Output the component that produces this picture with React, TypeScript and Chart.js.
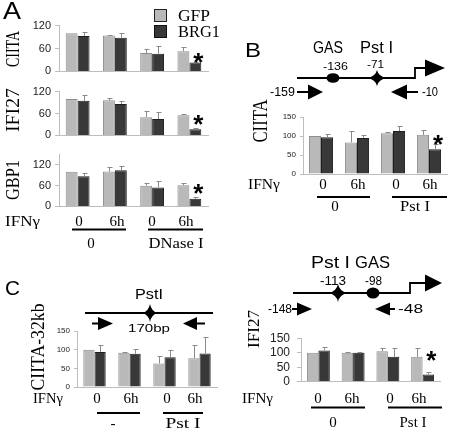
import React, { useEffect, useRef } from 'react';
import { Chart, registerables } from 'chart.js';
Chart.register(...registerables);

// ---------- DATA ----------
const categories = ['0', '6h', '0', '6h'];

// Panel A – CIITA
const aCiitaGfp = [100, 94, 48, 53];
const aCiitaGfpErr = [0, 1, 12, 12];
const aCiitaBrg1 = [93, 88, 46, 23];
const aCiitaBrg1Err = [10, 13, 21, 2];
// Panel A – IFI27
const aIfiGfp = [100, 96, 50, 55];
const aIfiGfpErr = [0, 7, 16, 5];
const aIfiBrg1 = [95, 86, 45, 17];
const aIfiBrg1Err = [15, 7, 19, 3];
// Panel A – GBP1
const aGbpGfp = [100, 101, 60, 61];
const aGbpGfpErr = [0, 12, 7, 6];
const aGbpBrg1 = [87, 105, 55, 22];
const aGbpBrg1Err = [10, 11, 20, 6];
// Panel B – CIITA
const bCiitaGfp = [100, 83, 107, 103];
const bCiitaGfpErr = [0, 30, 3, 13];
const bCiitaBrg1 = [97, 95, 113, 65];
const bCiitaBrg1Err = [8, 8, 14, 15];
// Panel C – CIITA-32kb
const cCiitaGfp = [100, 92, 63, 77];
const cCiitaGfpErr = [0, 2, 19, 35];
const cCiitaBrg1 = [94, 89, 80, 90];
const cCiitaBrg1Err = [19, 14, 20, 45];
// Panel C – IFI27
const cIfiGfp = [100, 100, 105, 86];
const cIfiGfpErr = [0, 2, 12, 31];
const cIfiBrg1 = [108, 100, 86, 25];
const cIfiBrg1Err = [12, 2, 31, 7];

const seriesNames = ['GFP', 'BRG1'];

// ---------- STYLE ----------
const GFP_COLOR = '#b9b9b9';
const BRG_COLOR = '#383838';
const AXIS_COLOR = '#bdbdbd';
const SANS = "'Liberation Sans', Arial, sans-serif";
const SERIF = "'Liberation Serif', 'Times New Roman', serif";

const errPlugin = {
  id: 'errbars',
  afterDatasetsDraw(chart: any, _args: any, opts: any) {
    const ctx = chart.ctx;
    const ys = chart.scales.y;
    chart.data.datasets.forEach((ds: any, i: number) => {
      const meta = chart.getDatasetMeta(i);
      meta.data.forEach((el: any, j: number) => {
        const e = ds.errors[j];
        if (!e) return;
        const yTop = Math.round(ys.getPixelForValue(ds.data[j] + e)) + 0.5;
        const x = Math.round(el.x) + 0.5;
        ctx.save();
        ctx.strokeStyle = '#8a8a8a';
        ctx.lineWidth = 1;
        ctx.beginPath();
        ctx.moveTo(x, el.y);
        ctx.lineTo(x, yTop);
        ctx.moveTo(x - 2, yTop);
        ctx.lineTo(x + 3, yTop);
        ctx.stroke();
        ctx.restore();
      });
    });
    if (opts && opts.star != null) {
      const meta = chart.getDatasetMeta(1);
      const el = meta.data[meta.data.length - 1];
      const size = 26;
      const y = ys.getPixelForValue(opts.star);
      ctx.save();
      ctx.fillStyle = '#000';
      ctx.font = `bold ${size}px ${SANS}`;
      ctx.textAlign = 'center';
      ctx.textBaseline = 'alphabetic';
      ctx.fillText('*', el.x + 3, y + size * 0.57);
      ctx.restore();
    }
  },
};

type Spec = {
  gfp: number[]; gfpErr: number[]; brg: number[]; brgErr: number[];
  max: number; step: number; star: number | null;
  left: number; right: number; top: number; bottom: number;
  font: number; tickLen: number; pad: number; cat: number;
};

const YW = 44, PT = 9, PB = 9, PR = 10;

function BarPanel({ s }: { s: Spec }) {
  const ref = useRef<HTMLCanvasElement>(null);
  useEffect(() => {
    const chart = new Chart(ref.current as HTMLCanvasElement, {
      type: 'bar',
      data: {
        labels: categories,
        datasets: [
          { label: seriesNames[0], data: s.gfp, errors: s.gfpErr, backgroundColor: GFP_COLOR, borderColor: '#8e8e8e', borderWidth: 1 } as any,
          { label: seriesNames[1], data: s.brg, errors: s.brgErr, backgroundColor: BRG_COLOR, borderColor: '#1e1e1e', borderWidth: 1 } as any,
        ],
      },
      options: {
        animation: false,
        responsive: false,
        maintainAspectRatio: false,
        layout: { padding: { left: 0, top: PT, right: PR, bottom: PB } },
        datasets: { bar: { categoryPercentage: s.cat, barPercentage: 1 } },
        plugins: { legend: { display: false }, tooltip: { enabled: false }, errbars: { star: s.star } } as any,
        scales: {
          x: {
            grid: { display: false },
            ticks: { display: false },
            border: { display: true, color: AXIS_COLOR, width: 1 },
            afterFit: (sc: any) => { sc.height = 0; },
          },
          y: {
            min: 0, max: s.max,
            ticks: { stepSize: s.step, color: '#222', font: { family: SANS, size: s.font }, padding: s.pad },
            grid: { drawOnChartArea: false, drawTicks: true, tickLength: s.tickLen, color: AXIS_COLOR },
            border: { display: true, color: AXIS_COLOR, width: 1 },
            afterFit: (sc: any) => { sc.width = YW; },
          },
        },
      },
      plugins: [errPlugin],
    } as any);
    return () => chart.destroy();
  }, []);
  const w = YW + (s.right - s.left) + PR;
  const h = PT + (s.bottom - s.top) + PB;
  return (
    <canvas ref={ref} width={w} height={h}
      style={{ position: 'absolute', left: s.left - YW, top: s.top - PT, width: w, height: h }} />
  );
}

const specs: Spec[] = [
  { gfp: aCiitaGfp, gfpErr: aCiitaGfpErr, brg: aCiitaBrg1, brgErr: aCiitaBrg1Err, max: 120, step: 30, star: 39,
    left: 59, right: 208, top: 24, bottom: 73, font: 11, tickLen: 4, pad: 4, cat: 0.64 },
  { gfp: aIfiGfp, gfpErr: aIfiGfpErr, brg: aIfiBrg1, brgErr: aIfiBrg1Err, max: 120, step: 30, star: 48,
    left: 59, right: 208, top: 90, bottom: 137, font: 11, tickLen: 4, pad: 4, cat: 0.64 },
  { gfp: aGbpGfp, gfpErr: aGbpGfpErr, brg: aGbpBrg1, brgErr: aGbpBrg1Err, max: 150, step: 30, star: 55,
    left: 59, right: 208, top: 153, bottom: 208, font: 11, tickLen: 4, pad: 4, cat: 0.64 },
  { gfp: bCiitaGfp, gfpErr: bCiitaGfpErr, brg: bCiitaBrg1, brgErr: bCiitaBrg1Err, max: 150, step: 50, star: 95,
    left: 303, right: 447, top: 117, bottom: 174, font: 8, tickLen: 3, pad: 4, cat: 0.67 },
  { gfp: cCiitaGfp, gfpErr: cCiitaGfpErr, brg: cCiitaBrg1, brgErr: cCiitaBrg1Err, max: 150, step: 50, star: null,
    left: 77, right: 217, top: 331, bottom: 387, font: 8, tickLen: 3, pad: 4, cat: 0.64 },
  { gfp: cIfiGfp, gfpErr: cIfiGfpErr, brg: cIfiBrg1, brgErr: cIfiBrg1Err, max: 150, step: 50, star: 94,
    left: 301, right: 440, top: 333, bottom: 387, font: 12, tickLen: 4, pad: 7, cat: 0.66 },
];

// ---------- SVG helpers ----------
function T({ x, y, t, size = 15, font = SERIF, anchor = 'start', len }: any) {
  return (
    <text x={x} y={y} fontSize={size} fontFamily={font} textAnchor={anchor} fill="#000"
      {...(len ? { textLength: len, lengthAdjust: 'spacingAndGlyphs' } : {})}>{t}</text>
  );
}
function R({ x, y, t, size = 17, len }: any) {
  return (
    <text transform={`translate(${x},${y}) rotate(-90)`} fontSize={size} fontFamily={SERIF}
      textAnchor="middle" dominantBaseline="central" fill="#000"
      {...(len ? { textLength: len, lengthAdjust: 'spacingAndGlyphs' } : {})}>{t}</text>
  );
}
function Star({ cx, cy, hw, hh }: any) {
  const k = 1.4;
  const d = `M ${cx - hw} ${cy} Q ${cx - k} ${cy - k} ${cx} ${cy - hh} Q ${cx + k} ${cy - k} ${cx + hw} ${cy} Q ${cx + k} ${cy + k} ${cx} ${cy + hh} Q ${cx - k} ${cy + k} ${cx - hw} ${cy} Z`;
  return <path d={d} fill="#000" />;
}
function ArrowR({ x0, xb, tip, y, h }: any) {
  return (
    <g>
      <line x1={x0} y1={y} x2={xb} y2={y} stroke="#000" strokeWidth={2} />
      <polygon points={`${xb},${y - h} ${xb},${y + h} ${tip},${y}`} fill="#000" />
    </g>
  );
}
function ArrowL({ x0, xb, tip, y, h }: any) {
  return (
    <g>
      <line x1={xb} y1={y} x2={x0} y2={y} stroke="#000" strokeWidth={2} />
      <polygon points={`${xb},${y - h} ${xb},${y + h} ${tip},${y}`} fill="#000" />
    </g>
  );
}
function Promoter({ x0, xs, y, yUp, xa, tip, h }: any) {
  return (
    <g>
      <path d={`M ${x0} ${y} L ${xs} ${y} L ${xs} ${yUp} L ${xa} ${yUp}`} stroke="#000" strokeWidth={1.8} fill="none" />
      <polygon points={`${xa},${yUp - h} ${xa},${yUp + h} ${tip},${yUp}`} fill="#000" />
    </g>
  );
}
function XLabels({ xs, y, t = categories }: any) {
  return <g>{xs.map((x: number, i: number) => <T key={i} x={x} y={y} t={t[i]} anchor="middle" size={15} />)}</g>;
}
function UL({ x1, x2, y }: any) {
  return <rect x={x1} y={y} width={x2 - x1} height={2} fill="#000" />;
}

export default function App() {
  return (
    <div style={{ position: 'absolute', left: 0, top: 0, width: 450, height: 434, background: '#fff', overflow: 'hidden' }}>
      {specs.map((s, i) => <BarPanel key={i} s={s} />)}
      <svg width={450} height={434} style={{ position: 'absolute', left: 0, top: 0, pointerEvents: 'none' }}>
        {/* Panel A */}
        <T x={3} y={19} t="A" size={24} font={SANS} len={18} />
        <rect x={154.5} y={9.5} width={12} height={12} fill={GFP_COLOR} stroke="#222" />
        <rect x={154.5} y={25.5} width={12} height={12} fill={BRG_COLOR} stroke="#111" />
        <T x={178} y={21} t={seriesNames[0]} size={17} len={32} />
        <T x={178} y={37} t={seriesNames[1]} size={17} len={42} />
        <R x={12} y={49} t="CIITA" size={19} len={36} />
        <R x={12} y={110} t="IFI27" size={19} len={44} />
        <R x={12} y={180} t="GBP1" size={19} len={40} />
        <T x={5} y={226} t="IFNγ" size={15} len={35} />
        <XLabels xs={[79, 117, 152, 186]} y={226} />
        <UL x1={72} x2={126} y={228.5} />
        <UL x1={148} x2={203} y={228.5} />
        <T x={91} y={248} t="0" anchor="middle" size={15} />
        <T x={176} y={248} t="DNase I" anchor="middle" size={15} len={55} />

        {/* Panel B */}
        <T x={245} y={57} t="B" size={21} font={SANS} len={16} />
        <T x={313} y={53} t="GAS" size={16} font={SANS} len={30} />
        <T x={360} y={53} t="Pst I" size={16} font={SANS} len={33} />
        <T x={323} y={70} t="-136" size={11} font={SANS} len={25} />
        <T x={367} y={68} t="-71" size={11} font={SANS} len={17} />
        <Promoter x0={297} xs={415} y={78} yUp={68} xa={425} tip={445} h={8.5} />
        <ellipse cx={333} cy={78} rx={6.5} ry={4.8} fill="#000" />
        <Star cx={377} cy={78} hw={10} hh={8} />
        <T x={270} y={96} t="-159" size={12} font={SANS} len={25} />
        <ArrowR x0={297} xb={308} tip={323} y={92} h={7.5} />
        <ArrowL x0={418} xb={407} tip={391} y={92} h={7.5} />
        <T x={422} y={96} t="-10" size={12} font={SANS} len={16} />
        <R x={260} y={121} t="CIITA" size={20} len={43} />
        <T x={248} y={189} t="IFNγ" size={15} len={32} />
        <XLabels xs={[323, 358, 396, 430]} y={189} />
        <UL x1={317} x2={370} y={196} />
        <UL x1={392} x2={447} y={196} />
        <T x={335} y={211} t="0" anchor="middle" size={15} />
        <T x={415} y={211} t="Pst I" anchor="middle" size={15} len={30} />

        {/* Panel B lower (IFI27) */}
        <T x={311} y={268} t="Pst I" size={17} font={SANS} len={39} />
        <T x={355} y={268} t="GAS" size={17} font={SANS} len={35} />
        <T x={320} y={285} t="-113" size={12} font={SANS} len={26} />
        <T x={365} y={285} t="-98" size={12} font={SANS} len={17} />
        <Promoter x0={293} xs={410} y={293} yUp={283} xa={425} tip={442} h={8.5} />
        <Star cx={338} cy={293} hw={10} hh={9} />
        <ellipse cx={373} cy={293} rx={6.5} ry={5.5} fill="#000" />
        <T x={268} y={313} t="-148" size={12} font={SANS} len={24} />
        <ArrowR x0={292} xb={297} tip={312} y={309} h={6.5} />
        <ArrowL x0={395} xb={390} tip={375} y={309} h={6.5} />
        <T x={398} y={313} t="-48" size={12} font={SANS} len={25} />
        <R x={253} y={329} t="IFI27" size={17} len={38} />
        <T x={242} y={403} t="IFNγ" size={15} len={31} />
        <XLabels xs={[318, 352, 390, 419]} y={403} />
        <UL x1={311} x2={365} y={406.5} />
        <UL x1={388} x2={442} y={406.5} />
        <T x={333} y={427} t="0" anchor="middle" size={15} />
        <T x={413} y={427} t="Pst I" anchor="middle" size={15} len={27} />

        {/* Panel C */}
        <T x={5} y={295} t="C" size={21} font={SANS} len={15} />
        <T x={135} y={299} t="PstI" size={15} font={SANS} len={28} />
        <line x1={85} y1={313} x2={213} y2={313} stroke="#000" strokeWidth={1.8} />
        <Star cx={150} cy={313} hw={8} hh={9} />
        <ArrowR x0={92} xb={98} tip={113} y={323.5} h={6.5} />
        <ArrowL x0={205} xb={197} tip={183} y={323.5} h={6.5} />
        <T x={149} y={332} t="170bp" anchor="middle" size={11.5} font={SANS} len={42} />
        <R x={38} y={347} t="CIITA-32kb" size={18} len={87} />
        <T x={33} y={403} t="IFNγ" size={15} len={30} />
        <XLabels xs={[97, 131, 167, 195]} y={403} />
        <UL x1={97} x2={140} y={412} />
        <UL x1={163} x2={203} y={412} />
        <T x={113} y={428} t="-" anchor="middle" size={15} />
        <T x={183} y={428} t="Pst I" anchor="middle" size={15} len={35} />
      </svg>
    </div>
  );
}
